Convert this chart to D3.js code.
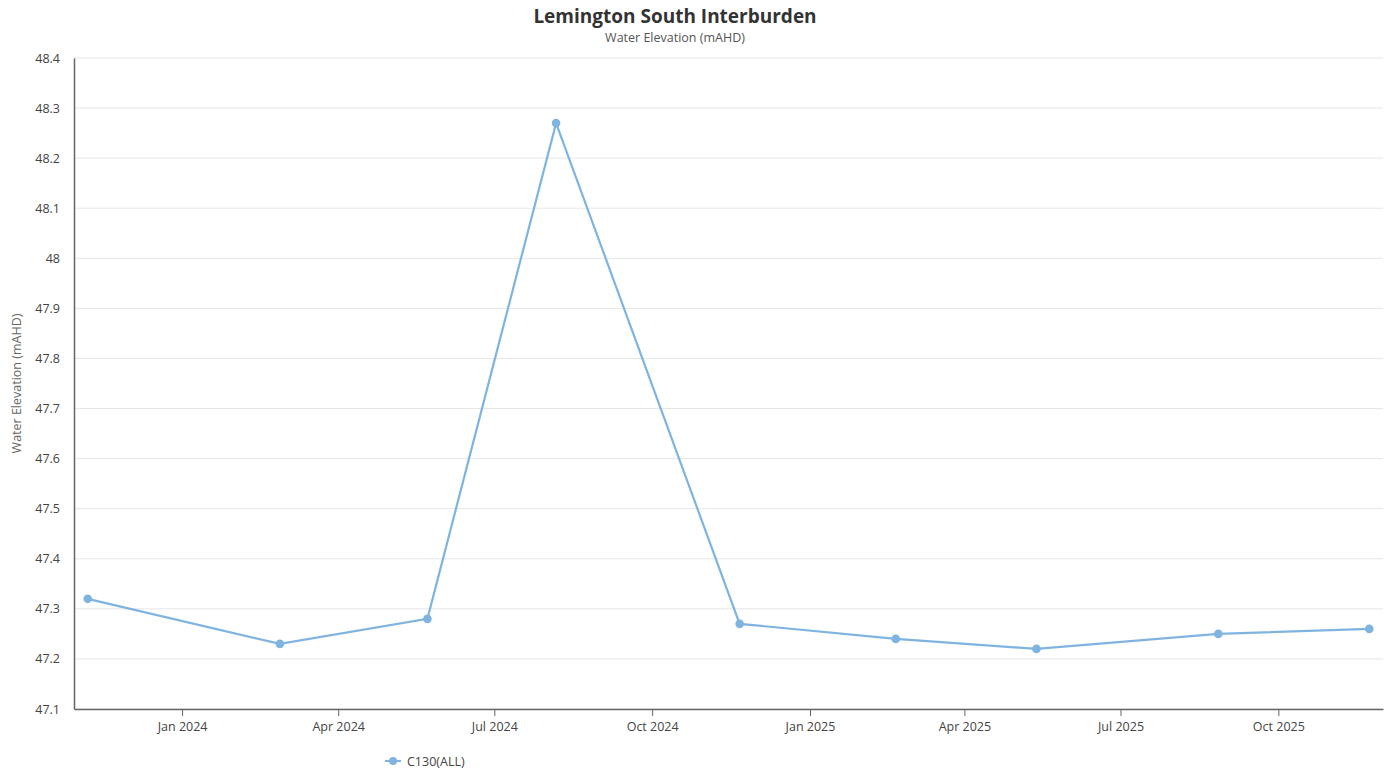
<!DOCTYPE html>
<html>
<head>
<meta charset="utf-8">
<script src="https://cdn.jsdelivr.net/npm/d3@7"></script>
<style>
  body { margin: 0; background: #fff; font-family: "Open Sans", "Noto Sans", sans-serif; }
</style>
</head>
<body>
<div id="chart"></div>
<script>
// datos
const fechas = ["2023-11-07", "2024-02-27", "2024-05-23", "2024-08-06", "2024-11-21",
                "2025-02-20", "2025-05-13", "2025-08-27", "2025-11-23"];
const valores = [47.32, 47.23, 47.28, 48.27, 47.27, 47.24, 47.22, 47.25, 47.26];
const yTicks = [47.1, 47.2, 47.3, 47.4, 47.5, 47.6, 47.7, 47.8, 47.9, 48, 48.1, 48.2, 48.3, 48.4];
const xTicks = ["2024-01-01", "2024-04-01", "2024-07-01", "2024-10-01",
                "2025-01-01", "2025-04-01", "2025-07-01", "2025-10-01"];
const serie = "C130(ALL)";

const width = 1391;
const height = 771;
const margin = { top: 58, right: 8, bottom: 62, left: 74 };
const color = "#7fb3e0";

const parse = d3.timeParse("%Y-%m-%d");
const data = fechas.map((f, i) => ({ fecha: parse(f), valor: valores[i] }));

const svg = d3.select("#chart")
    .append("svg")
    .attr("width", width)
    .attr("height", height);

const x = d3.scaleTime()
    .domain([parse("2023-10-30"), parse("2025-12-01")])
    .range([margin.left, width - margin.right]);

const y = d3.scaleLinear()
    .domain([47.1, 48.4])
    .range([height - margin.bottom, margin.top]);

// lineas de cuadricula
svg.append("g")
    .selectAll("line")
    .data(yTicks)
    .enter()
    .append("line")
    .attr("x1", margin.left)
    .attr("x2", width - margin.right)
    .attr("y1", d => y(d))
    .attr("y2", d => y(d))
    .attr("stroke", "#e6e6e6")
    .attr("stroke-width", 1);

// eje Y
const yAxis = svg.append("g")
    .attr("transform", `translate(${margin.left},0)`)
    .call(d3.axisLeft(y).tickValues(yTicks).tickSize(0).tickPadding(14).tickFormat(d => String(+d.toFixed(1))));
yAxis.select(".domain").attr("stroke", "#666").attr("stroke-width", 1.5);
yAxis.selectAll("text")
    .style("font-family", "'Open Sans', sans-serif")
    .style("font-size", "12.5px")
    .attr("fill", "#444");

// eje X
const xAxis = svg.append("g")
    .attr("transform", `translate(0,${height - margin.bottom})`)
    .call(d3.axisBottom(x).tickValues(xTicks.map(parse)).tickSizeInner(7).tickSizeOuter(0).tickPadding(6).tickFormat(d3.timeFormat("%b %Y")));
xAxis.select(".domain").attr("stroke", "#666").attr("stroke-width", 1.5);
xAxis.selectAll(".tick line").attr("stroke", "#666");
xAxis.selectAll("text")
    .style("font-family", "'Open Sans', sans-serif")
    .style("font-size", "12.5px")
    .attr("fill", "#444");

// titulos
svg.append("text")
    .attr("x", 675)
    .attr("y", 23)
    .attr("text-anchor", "middle")
    .style("font-size", "19px")
    .style("font-weight", "bold")
    .attr("fill", "#333")
    .text("Lemington South Interburden");

svg.append("text")
    .attr("x", 675)
    .attr("y", 42)
    .attr("text-anchor", "middle")
    .style("font-size", "12.5px")
    .attr("fill", "#555")
    .text("Water Elevation (mAHD)");

svg.append("text")
    .attr("transform", `translate(21, ${(margin.top + height - margin.bottom) / 2}) rotate(-90)`)
    .attr("text-anchor", "middle")
    .style("font-size", "12.5px")
    .attr("fill", "#666")
    .text("Water Elevation (mAHD)");

// linea y puntos
const line = d3.line()
    .x(d => x(d.fecha))
    .y(d => y(d.valor));

svg.append("path")
    .datum(data)
    .attr("d", line)
    .attr("fill", "none")
    .attr("stroke", color)
    .attr("stroke-width", 2.2);

svg.append("g")
    .selectAll("circle")
    .data(data)
    .enter()
    .append("circle")
    .attr("cx", d => x(d.fecha))
    .attr("cy", d => y(d.valor))
    .attr("r", 4.3)
    .attr("fill", color);

// leyenda
const legend = svg.append("g")
    .attr("transform", `translate(385, 761)`);

legend.append("line")
    .attr("x1", 0)
    .attr("x2", 16)
    .attr("stroke", color)
    .attr("stroke-width", 2);

legend.append("circle")
    .attr("cx", 8)
    .attr("r", 4)
    .attr("fill", color);

legend.append("text")
    .attr("x", 22)
    .attr("y", 4.5)
    .style("font-size", "12.5px")
    .attr("fill", "#444")
    .text(serie);
</script>
</body>
</html>
